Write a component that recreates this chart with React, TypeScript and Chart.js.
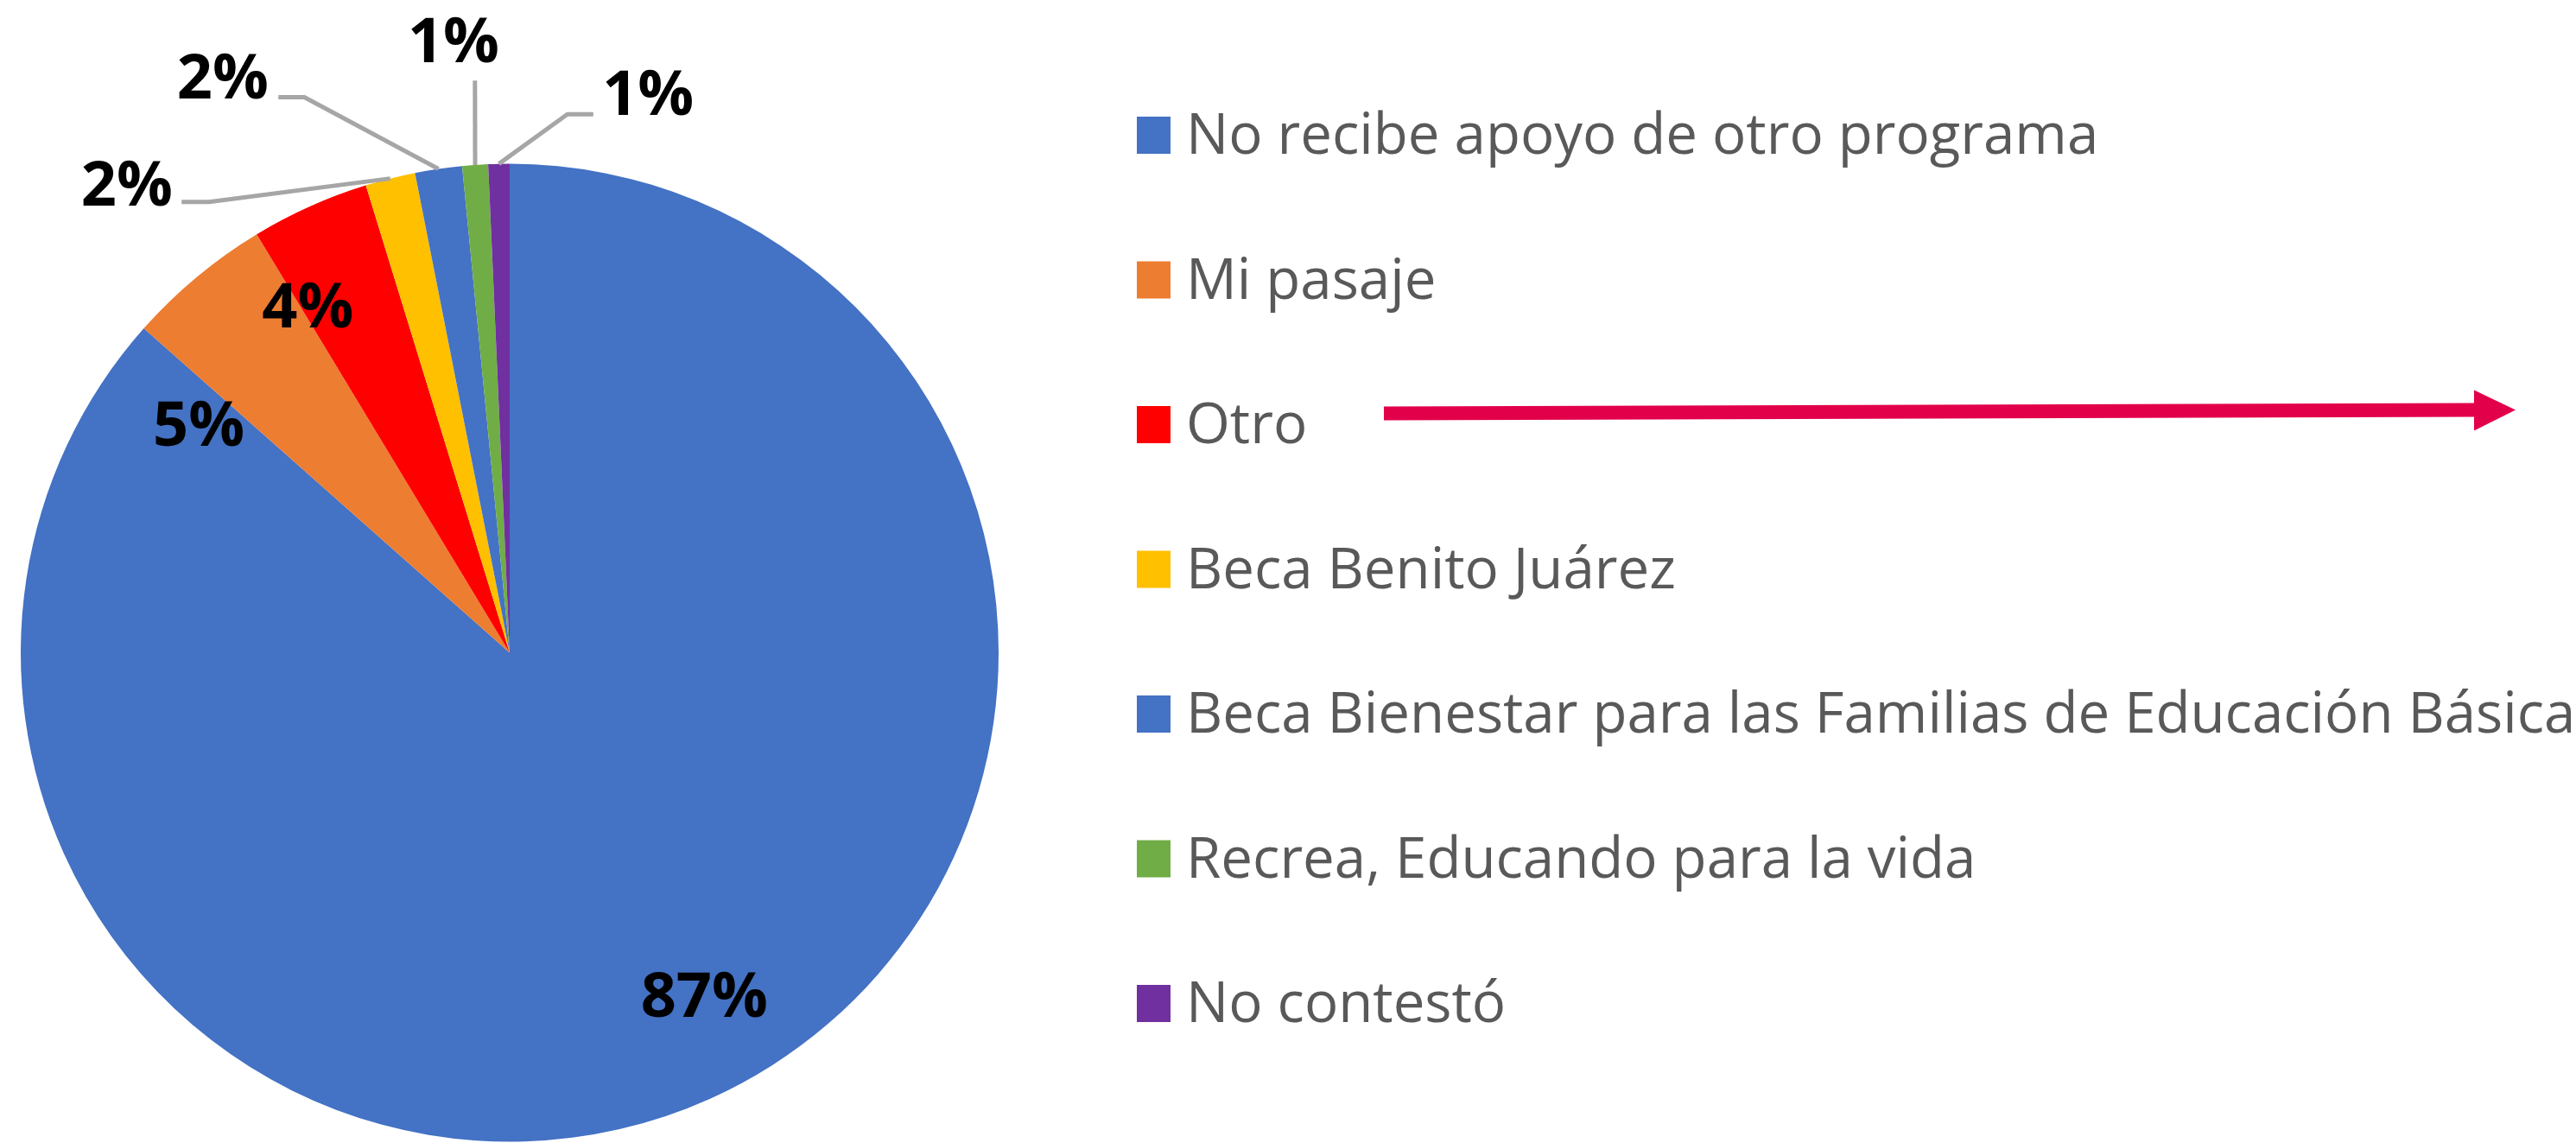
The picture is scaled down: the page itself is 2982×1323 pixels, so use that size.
import React, { useEffect, useRef } from "react";
import { Chart, registerables } from "chart.js";

Chart.register(...registerables);

// ---- data ----
const categories = [
  "No recibe apoyo de otro programa",
  "Mi pasaje",
  "Otro",
  "Beca Benito Juárez",
  "Beca Bienestar para las Familias de Educación Básica",
  "Recrea, Educando para la vida",
  "No contestó",
];
const values = [86.5, 4.8, 3.9, 1.65, 1.55, 0.85, 0.7];
const sliceColors = ["#4472C4", "#ED7D31", "#FF0000", "#FFC000", "#4472C4", "#70AD47", "#7030A0"];

// label placement relative to the pie radius (x, baseline y) and leader-line anchors
const labelPlacement: { x: number; y: number; leader?: number[][] }[] = [
  { x: 0.398, y: 0.744 },
  { x: -0.636, y: -0.424 },
  { x: -0.413, y: -0.666 },
  { x: -0.783, y: -0.915, leader: [[-0.671, -0.922], [-0.615, -0.922]] },
  { x: -0.587, y: -1.134, leader: [[-0.473, -1.136], [-0.42, -1.136]] },
  { x: -0.115, y: -1.208, leader: [[-0.071, -1.17]] },
  { x: 0.283, y: -1.099, leader: [[0.171, -1.101], [0.118, -1.101]] },
];

const W = 2982;
const H = 1323;

const pieLabelsPlugin = {
  id: "pieLabels",
  afterDatasetsDraw(chart: any) {
    const ctx = chart.ctx;
    const meta = chart.getDatasetMeta(0);
    const data = chart.data.datasets[0].data as number[];
    const total = data.reduce((a, b) => a + b, 0);
    ctx.save();
    meta.data.forEach((arc: any, i: number) => {
      const { x, y, startAngle, endAngle, outerRadius } = arc.getProps(
        ["x", "y", "startAngle", "endAngle", "outerRadius"],
        true
      );
      const p = labelPlacement[i];
      if (p.leader) {
        const mid = (startAngle + endAngle) / 2;
        ctx.beginPath();
        p.leader.forEach(([fx, fy], k) => {
          const px = x + fx * outerRadius;
          const py = y + fy * outerRadius;
          if (k === 0) ctx.moveTo(px, py);
          else ctx.lineTo(px, py);
        });
        ctx.lineTo(x + Math.cos(mid) * outerRadius, y + Math.sin(mid) * outerRadius);
        ctx.strokeStyle = "#A6A6A6";
        ctx.lineWidth = 5;
        ctx.lineJoin = "round";
        ctx.stroke();
      }
      ctx.font = 'bold 72px "Open Sans"';
      ctx.fillStyle = "#000000";
      ctx.textAlign = "center";
      ctx.textBaseline = "alphabetic";
      ctx.fillText(Math.round((data[i] / total) * 100) + "%", x + p.x * outerRadius, y + p.y * outerRadius);
    });
    ctx.restore();
  },
};

const legendPlugin = {
  id: "sideLegend",
  afterDraw(chart: any) {
    const ctx = chart.ctx;
    const area = chart.chartArea;
    const boxLeft = area.right + 160;
    const firstTop = 135;
    const rowGap = 167.5;
    const boxW = 39;
    const boxH = 43;
    const colors = chart.data.datasets[0].backgroundColor as string[];
    ctx.save();
    (chart.data.labels as string[]).forEach((label, i) => {
      const top = firstTop + i * rowGap;
      ctx.fillStyle = colors[i];
      ctx.fillRect(boxLeft, top, boxW, boxH);
      ctx.font = '65.4px "Open Sans"';
      ctx.fillStyle = "#595959";
      ctx.textAlign = "left";
      ctx.textBaseline = "alphabetic";
      ctx.fillText(label, boxLeft + 57, top + boxH);
    });

    // arrow pointing from the "Otro" entry
    const rowTop = firstTop + 2 * rowGap;
    const cy = rowTop + boxH / 2 - 15;
    const x0 = boxLeft + 286;
    const headStart = boxLeft + 1548;
    const tip = boxLeft + 1596;
    ctx.fillStyle = "#E2004B";
    ctx.beginPath();
    ctx.moveTo(x0, cy - 6);
    ctx.lineTo(headStart, cy - 10);
    ctx.lineTo(headStart, cy - 25);
    ctx.lineTo(tip, cy - 2);
    ctx.lineTo(headStart, cy + 22);
    ctx.lineTo(headStart, cy + 6);
    ctx.lineTo(x0, cy + 10);
    ctx.closePath();
    ctx.fill();
    ctx.restore();
  },
};

export default function App() {
  const canvasRef = useRef<HTMLCanvasElement | null>(null);

  useEffect(() => {
    const canvas = canvasRef.current;
    if (!canvas) return;
    const chart = new Chart(canvas, {
      type: "pie",
      data: {
        labels: categories,
        datasets: [
          {
            data: values,
            backgroundColor: sliceColors,
            borderWidth: 0,
          },
        ],
      },
      options: {
        responsive: false,
        animation: false,
        layout: { padding: { top: 189, left: 24, bottom: 1, right: W - 1156 } },
        plugins: {
          legend: { display: false },
          tooltip: { enabled: false },
        },
      },
      plugins: [pieLabelsPlugin, legendPlugin],
    });
    const fonts = (document as any).fonts;
    if (fonts && fonts.load) {
      Promise.all([fonts.load('bold 72px "Open Sans"'), fonts.load('65.4px "Open Sans"')])
        .then(() => chart.draw())
        .catch(() => {});
    }
    return () => chart.destroy();
  }, []);

  return (
    <div style={{ position: "absolute", left: 0, top: 0, width: W, height: H, background: "#ffffff" }}>
      <canvas ref={canvasRef} width={W} height={H} style={{ width: W, height: H, display: "block" }} />
    </div>
  );
}
